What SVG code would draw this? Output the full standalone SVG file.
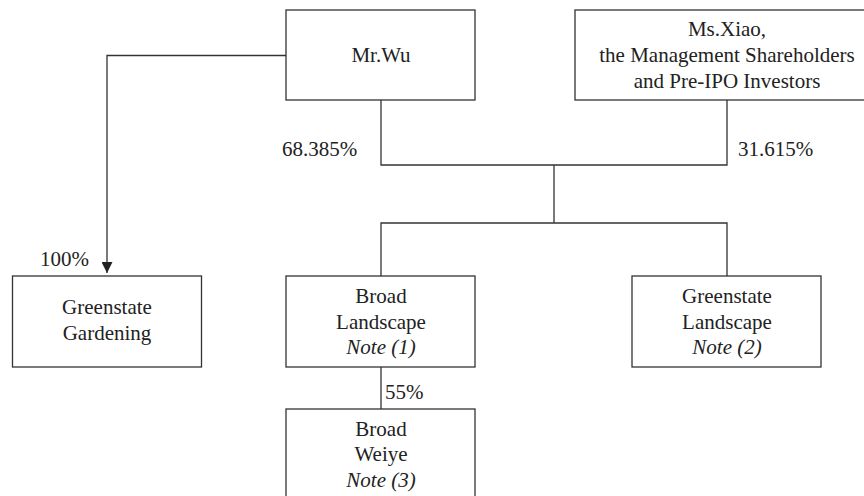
<svg xmlns="http://www.w3.org/2000/svg" width="864" height="496" viewBox="0 0 864 496">
<style>
.box{fill:#fff;stroke:#333;stroke-width:1.3}
.ln{fill:none;stroke:#333;stroke-width:1.3}
.t{font-family:'Liberation Serif','DejaVu Serif',serif;font-size:21px;fill:#222}
.c{text-anchor:middle}
.i{font-style:italic}
</style>
<defs>
<marker id="arr" markerWidth="11" markerHeight="11" refX="11" refY="5.5" orient="auto" markerUnits="userSpaceOnUse">
<path d="M0,0 L11,5.5 L0,11 Z" fill="#222"/>
</marker>
</defs>
<rect width="864" height="496" fill="#fff"/>
<g id="connectors">
<path class="ln" d="M286,55.5 H107 V273" marker-end="url(#arr)"/>
<path class="ln" d="M381,100 V165 H727 V100"/>
<path class="ln" d="M554,165 V223"/>
<path class="ln" d="M381,276 V223 H727 V276"/>
<path class="ln" d="M381,367 V409"/>
<text class="t" font-family="Liberation Serif, serif" x="282" y="156">68.385%</text>
<text class="t" font-family="Liberation Serif, serif" x="738" y="156">31.615%</text>
<text class="t" font-family="Liberation Serif, serif" x="40" y="266">100%</text>
<text class="t" font-family="Liberation Serif, serif" x="385" y="399">55%</text>
</g>
<g id="mrwu">
<rect class="box" x="286" y="10" width="189" height="90"/>
<text class="t c" x="381" y="62">Mr.Wu</text>
</g>
<g id="msxiao">
<rect class="box" x="575" y="10" width="304" height="90"/>
<text class="t c" x="727" y="36">Ms.Xiao,</text>
<text class="t c" x="727" y="62">the Management Shareholders</text>
<text class="t c" x="727" y="88">and Pre-IPO Investors</text>
</g>
<g id="greenstate-gardening">
<rect class="box" x="12.5" y="276" width="189" height="91"/>
<text class="t c" x="107" y="314">Greenstate</text>
<text class="t c" x="107" y="340">Gardening</text>
</g>
<g id="broad-landscape">
<rect class="box" x="286" y="276" width="189" height="91"/>
<text class="t c" x="381" y="303">Broad</text>
<text class="t c" x="381" y="328.5">Landscape</text>
<text class="t c i" x="381" y="354">Note (1)</text>
</g>
<g id="greenstate-landscape">
<rect class="box" x="632" y="276" width="189" height="91"/>
<text class="t c" x="727" y="303">Greenstate</text>
<text class="t c" x="727" y="328.5">Landscape</text>
<text class="t c i" x="727" y="354">Note (2)</text>
</g>
<g id="broad-weiye">
<rect class="box" x="286" y="409" width="189" height="100"/>
<text class="t c" x="381" y="436">Broad</text>
<text class="t c" x="381" y="461">Weiye</text>
<text class="t c i" x="381" y="487">Note (3)</text>
</g>
</svg>
